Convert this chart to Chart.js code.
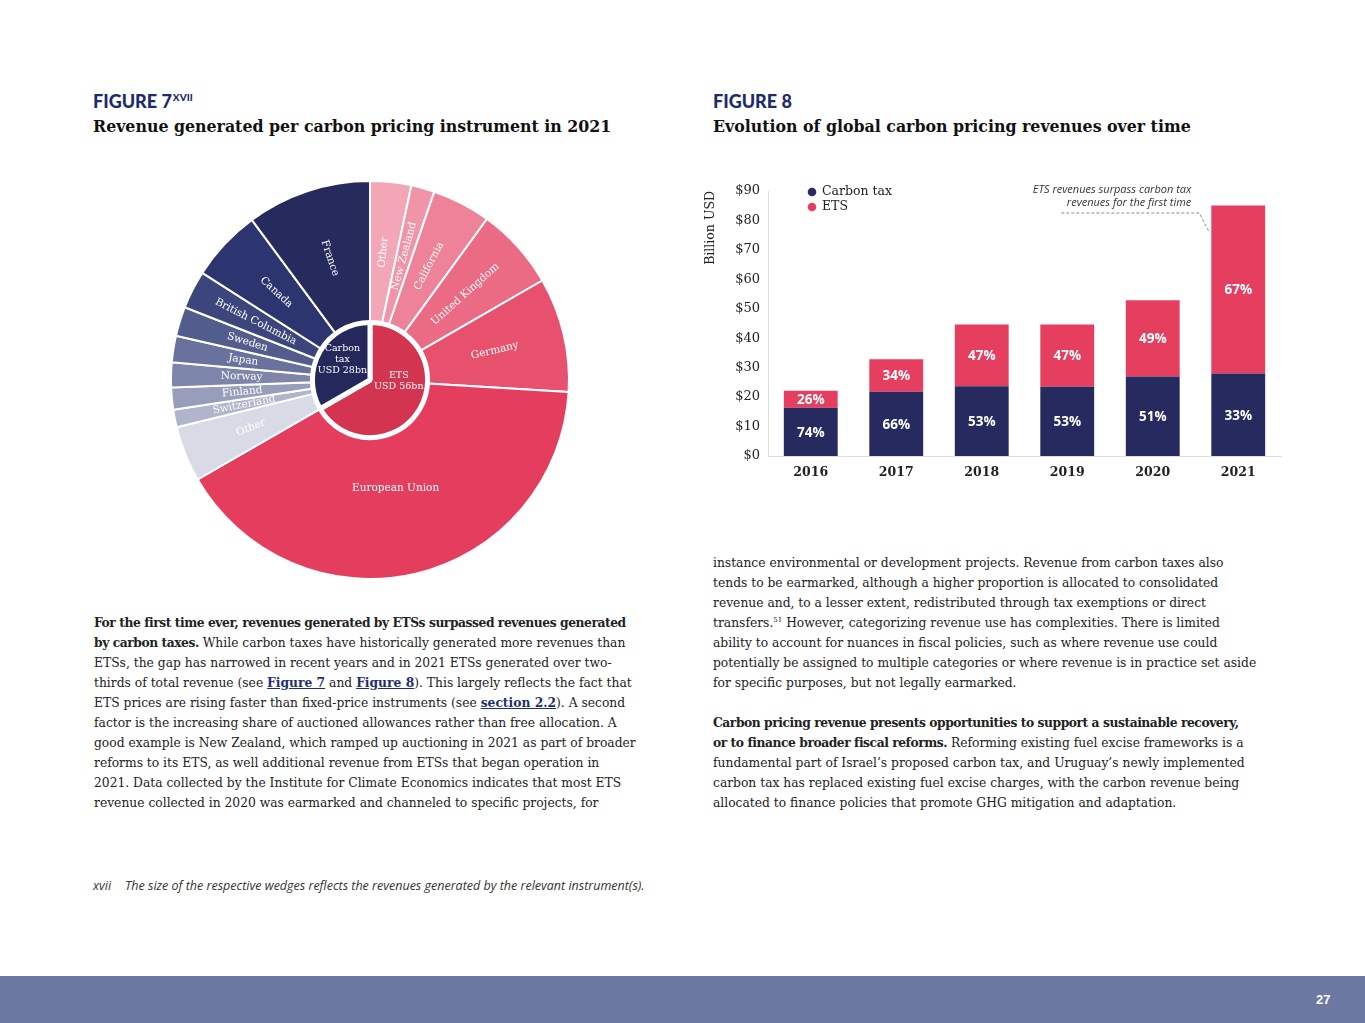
<!DOCTYPE html>
<html>
<head>
<meta charset="utf-8">
<title>Carbon pricing revenues</title>
<script src="https://cdn.jsdelivr.net/npm/chart.js@4.4.1/dist/chart.umd.min.js"></script>
<style>
  html, body { margin: 0; padding: 0; background: #fff; }
  body { width: 1365px; height: 1023px; position: relative; overflow: hidden; font-family: "DejaVu Serif", serif; color: #1e1e1e; }
  .fig { position: absolute; font-family: Lato, "Open Sans", sans-serif; font-weight: 900; color: #1d2b6e; font-size: 18px; line-height: 20px; white-space: nowrap; }
  .fig .sup { font-size: 10px; position: relative; top: -7px; margin-left: 1px; }
  .sub { position: absolute; font-weight: bold; font-size: 15.8px; line-height: 20px; color: #111; white-space: nowrap; }
  .para { position: absolute; font-size: 12.3px; line-height: 20px; white-space: nowrap; color: #222; }
  .para b { letter-spacing: -0.45px; }
  .para a { color: #1f2f6e; font-weight: bold; text-decoration: underline; }
  .para .sup { font-size: 7px; line-height: 0; position: relative; top: -5px; }
  .note { position: absolute; left: 93px; top: 877px; font-family: "Liberation Sans Narrow", "Open Sans", sans-serif; font-style: italic; font-size: 12.5px; color: #333; white-space: nowrap; }
  .note span { margin-right: 14px; }
  .footer { position: absolute; left: 0; top: 976px; width: 1365px; height: 47px; background: #6a78a2; }
  .pageno { position: absolute; left: 1316px; top: 992px; font-family: "Liberation Sans Narrow", sans-serif; font-weight: bold; font-size: 13px; color: #fff; }
  canvas { position: absolute; }
</style>
</head>
<body>

<div class="fig" style="left:93px; top:91px;">FIGURE 7<span class="sup">XVII</span></div>
<div class="sub" style="left:93px; top:117px;">Revenue generated per carbon pricing instrument in 2021</div>

<div class="fig" style="left:713px; top:91px;">FIGURE 8</div>
<div class="sub" style="left:713px; top:117px;">Evolution of global carbon pricing revenues over time</div>

<canvas id="pieChart" width="420" height="420" style="left:160px; top:170px;"></canvas>
<canvas id="barChart" width="600" height="320" style="left:695px; top:170px;"></canvas>

<div class="para" style="left:94px; top:613px;">
<b>For the first time ever, revenues generated by ETSs surpassed revenues generated</b><br>
<b>by carbon taxes.</b> While carbon taxes have historically generated more revenues than<br>
ETSs, the gap has narrowed in recent years and in 2021 ETSs generated over two-<br>
thirds of total revenue (see <a>Figure 7</a> and <a>Figure 8</a>). This largely reflects the fact that<br>
ETS prices are rising faster than fixed-price instruments (see <a>section 2.2</a>). A second<br>
factor is the increasing share of auctioned allowances rather than free allocation. A<br>
good example is New Zealand, which ramped up auctioning in 2021 as part of broader<br>
reforms to its ETS, as well additional revenue from ETSs that began operation in<br>
2021. Data collected by the Institute for Climate Economics indicates that most ETS<br>
revenue collected in 2020 was earmarked and channeled to specific projects, for
</div>

<div class="para" style="left:713px; top:553px;">
instance environmental or development projects. Revenue from carbon taxes also<br>
tends to be earmarked, although a higher proportion is allocated to consolidated<br>
revenue and, to a lesser extent, redistributed through tax exemptions or direct<br>
transfers.<span class="sup">51</span> However, categorizing revenue use has complexities. There is limited<br>
ability to account for nuances in fiscal policies, such as where revenue use could<br>
potentially be assigned to multiple categories or where revenue is in practice set aside<br>
for specific purposes, but not legally earmarked.<br>
<br>
<b>Carbon pricing revenue presents opportunities to support a sustainable recovery,</b><br>
<b>or to finance broader fiscal reforms.</b> Reforming existing fuel excise frameworks is a<br>
fundamental part of Israel’s proposed carbon tax, and Uruguay’s newly implemented<br>
carbon tax has replaced existing fuel excise charges, with the carbon revenue being<br>
allocated to finance policies that promote GHG mitigation and adaptation.
</div>

<div class="note"><span>xvii</span>The size of the respective wedges reflects the revenues generated by the relevant instrument(s).</div>

<div class="footer"></div>
<div class="pageno">27</div>

<script>
// Figure 7 - revenue per instrument, 2021 (USD bn)
const instruments = ["ETS", "Carbon tax"];
const instrumentLines = [["ETS", "USD 56bn"], ["Carbon", "tax", "USD 28bn"]];
const instrumentRevenue = [56, 28];
const jurisdictions = [
  "Other", "New Zealand", "California", "United Kingdom", "Germany", "European Union",
  "Other", "Switzerland", "Finland", "Norway", "Japan", "Sweden", "British Columbia", "Canada", "France"
];
const jurisdictionRevenue = [2.8, 1.6, 4.0, 5.6, 7.8, 34.2, 3.8, 1.2, 1.5, 1.7, 1.8, 2.0, 2.6, 4.9, 8.5];
const jurisdictionColors = [
  "#f3a6b5", "#f094a7", "#ee8298", "#eb6a84", "#e8516e", "#e43d5e",
  "#d8dae6", "#b0b5cc", "#979ebb", "#7d86aa", "#68729c", "#535d8d", "#3c467d", "#2d3570", "#262a5c"
];
const instrumentColors = ["#d3344f", "#24285a"];

// Figure 8 - revenues over time (USD bn)
const years = ["2016", "2017", "2018", "2019", "2020", "2021"];
const carbonTax = [16.4, 21.8, 23.7, 23.5, 27.0, 28.0];
const ets = [5.8, 11.1, 21.0, 21.2, 25.9, 57.1];
const carbonShare = ["74%", "66%", "53%", "53%", "51%", "33%"];
const etsShare = ["26%", "34%", "47%", "47%", "49%", "67%"];
const yTickLabels = ["$0", "$10", "$20", "$30", "$40", "$50", "$60", "$70", "$80", "$90"];

const serif = "'DejaVu Serif', serif";

// labels written along the wedges
const pieLabels = {
  id: "pieLabels",
  afterDatasetsDraw(chart) {
    const ctx = chart.ctx;
    const outer = chart.getDatasetMeta(0);
    const inner = chart.getDatasetMeta(1);
    ctx.save();
    ctx.fillStyle = "#fff";
    ctx.textAlign = "center";
    ctx.textBaseline = "middle";
    ctx.font = "10.5px " + serif;
    outer.data.forEach((arc, i) => {
      const { x, y, startAngle, endAngle, innerRadius, outerRadius } = arc;
      const mid = (startAngle + endAngle) / 2;
      const span = endAngle - startAngle;
      const wide = span > Math.PI / 2;
      const r = wide ? innerRadius + (outerRadius - innerRadius) * 0.38 : (innerRadius + outerRadius) / 2;
      ctx.save();
      ctx.translate(x + r * Math.cos(mid), y + r * Math.sin(mid));
      if (!wide) ctx.rotate(Math.cos(mid) < 0 ? mid + Math.PI : mid);
      ctx.fillText(jurisdictions[i], 0, 0);
      ctx.restore();
    });
    // instrument totals in the middle
    ctx.font = "9.5px " + serif;
    inner.data.forEach((arc, i) => {
      const lines = instrumentLines[i];
      const r = arc.outerRadius;
      const cx = arc.x + (i === 0 ? 0.5 : -0.48) * r;
      const cy = arc.y + (i === 0 ? 0.01 : -0.35) * r;
      lines.forEach((t, k) => ctx.fillText(t, cx, cy + (k - (lines.length - 1) / 2) * 11));
    });
    ctx.restore();
  }
};

new Chart(document.getElementById("pieChart"), {
  type: "doughnut",
  data: {
    labels: jurisdictions,
    datasets: [
      {
        label: "Jurisdiction",
        data: jurisdictionRevenue,
        backgroundColor: jurisdictionColors,
        borderColor: "#fff",
        borderWidth: 2,
        weight: 140,
        order: 1
      },
      {
        label: "Instrument",
        data: instrumentRevenue,
        backgroundColor: instrumentColors,
        borderColor: "#fff",
        borderWidth: 5,
        weight: 57,
        order: 0
      }
    ]
  },
  options: {
    responsive: false,
    animation: false,
    cutout: 0,
    hoverOffset: 0,
    layout: { padding: 10 },
    plugins: { legend: { display: false }, tooltip: { enabled: false } }
  },
  plugins: [pieLabels]
});

// percentages on the bars, legend and the 2021 note
const barExtras = {
  id: "barExtras",
  afterDatasetsDraw(chart) {
    const ctx = chart.ctx;
    const shares = [carbonShare, etsShare];
    ctx.save();
    ctx.fillStyle = "#fff";
    ctx.textAlign = "center";
    ctx.textBaseline = "middle";
    ctx.font = "bold 13.5px 'Open Sans', sans-serif";
    chart.data.datasets.forEach((ds, d) => {
      chart.getDatasetMeta(d).data.forEach((bar, i) => {
        ctx.fillText(shares[d][i], bar.x, (bar.y + bar.base) / 2 + 1);
      });
    });

    // legend
    const area = chart.chartArea;
    const lx = area.left + 44;
    chart.data.datasets.forEach((ds, d) => {
      const ly = area.top + 1 + d * 15;
      ctx.fillStyle = ds.backgroundColor;
      ctx.beginPath();
      ctx.arc(lx, ly, 4.3, 0, Math.PI * 2);
      ctx.fill();
      ctx.fillStyle = "#222";
      ctx.textAlign = "left";
      ctx.font = "12.5px " + serif;
      ctx.fillText(ds.label, lx + 10, ly);
    });

    // note pointing at the 2021 bar
    const last = chart.getDatasetMeta(1).data[years.length - 1];
    const barLeft = last.x - last.width / 2;
    ctx.fillStyle = "#333";
    ctx.textAlign = "right";
    ctx.font = "italic 11px 'Open Sans', sans-serif";
    ctx.fillText("ETS revenues surpass carbon tax", barLeft - 20, area.top - 1);
    ctx.fillText("revenues for the first time", barLeft - 20, area.top + 12);
    ctx.strokeStyle = "#8a8a8a";
    ctx.lineWidth = 1;
    ctx.setLineDash([3, 2]);
    ctx.beginPath();
    ctx.moveTo(barLeft - 150, area.top + 22);
    ctx.lineTo(barLeft - 12, area.top + 22);
    ctx.lineTo(barLeft - 2, last.y + 27);
    ctx.stroke();
    ctx.restore();
  }
};

new Chart(document.getElementById("barChart"), {
  type: "bar",
  data: {
    labels: years,
    datasets: [
      { label: "Carbon tax", data: carbonTax, backgroundColor: "#262a5e" },
      { label: "ETS", data: ets, backgroundColor: "#e63e5f" }
    ]
  },
  options: {
    responsive: false,
    animation: false,
    barPercentage: 0.63,
    categoryPercentage: 1,
    layout: { padding: { top: 21, right: 14, left: 0, bottom: 0 } },
    plugins: { legend: { display: false }, tooltip: { enabled: false } },
    scales: {
      x: {
        stacked: true,
        grid: { display: false },
        border: { color: "#dedede" },
        ticks: { color: "#222", padding: 1, font: { family: serif, weight: "bold", size: 12.5 } },
        afterFit: (s) => { s.height = 34; }
      },
      y: {
        stacked: true,
        min: 0,
        max: 90,
        grid: { display: false },
        border: { color: "#dedede" },
        ticks: {
          stepSize: 10,
          padding: 0,
          color: "#222",
          font: { family: serif, size: 13 },
          callback: (v, i) => yTickLabels[i]
        },
        title: {
          display: true,
          text: "Billion USD",
          align: "end",
          color: "#222",
          font: { family: serif, size: 12.5 },
          padding: { top: 8, bottom: 0 }
        },
        afterFit: (s) => { s.width = 73; }
      }
    }
  },
  plugins: [barExtras]
});
</script>
</body>
</html>
